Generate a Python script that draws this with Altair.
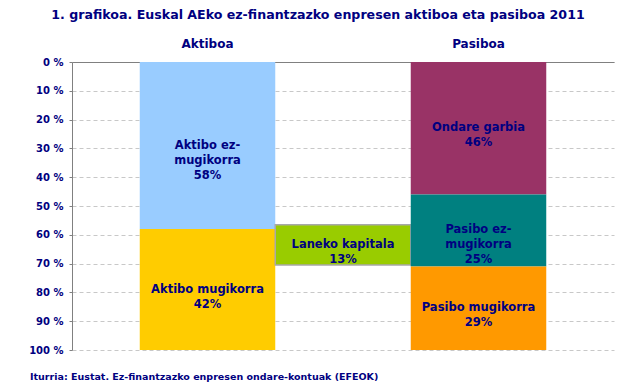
import altair as alt
import pandas as pd

# ---- data ----
columns = ["Aktiboa", "Laneko kapitala", "Pasiboa"]
seg_column = ["Aktiboa", "Aktiboa", "Laneko kapitala", "Pasiboa", "Pasiboa", "Pasiboa"]
seg_names = ["Aktibo ez-mugikorra", "Aktibo mugikorra", "Laneko kapitala",
             "Ondare garbia", "Pasibo ez-mugikorra", "Pasibo mugikorra"]
seg_start = [0, 58, 56.5, 0, 46, 71]
seg_end = [58, 100, 70.5, 46, 71, 100]
seg_labels = ["Aktibo ez-\nmugikorra\n58%", "Aktibo mugikorra\n42%", "Laneko kapitala\n13%",
              "Ondare garbia\n46%", "Pasibo ez-\nmugikorra\n25%", "Pasibo mugikorra\n29%"]
seg_colors = ["#99CCFF", "#FFCC00", "#99CC00", "#993366", "#008080", "#FF9900"]
y_ticks = [0, 10, 20, 30, 40, 50, 60, 70, 80, 90, 100]

title_text = "1. grafikoa. Euskal AEko ez-finantzazko enpresen aktiboa eta pasiboa 2011"
source_text = "Iturria: Eustat. Ez-finantzazko enpresen ondare-kontuak (EFEOK)"

NAVY = "#000080"
FONT = "DejaVu Sans"

df = pd.DataFrame({
    "column": seg_column,
    "name": seg_names,
    "start": seg_start,
    "end": seg_end,
    "label": seg_labels,
})

x_scale = alt.Scale(domain=columns, paddingInner=0, paddingOuter=0.5)
y_scale = alt.Scale(domain=[0, 100], reverse=True, nice=False, zero=False)

x_axis = alt.Axis(orient="top", values=["Aktiboa", "Pasiboa"], ticks=False,
                  labelPadding=12, labelAngle=0, labelFont=FONT, labelFontSize=12,
                  labelFontWeight="bold", labelColor=NAVY, title=None,
                  domainColor="#808080", grid=False)
y_axis = alt.Axis(values=y_ticks, labelExpr="datum.value + ' %'", title=None,
                  labelOverlap=False, labelFont=FONT, labelFontSize=10,
                  labelFontWeight="bold", labelColor=NAVY, labelPadding=6,
                  tickSize=3, tickColor="#808080",
                  domainColor="#808080", gridColor="#C8C8C8", gridDash=[4, 3])

bars = alt.Chart(df).mark_bar(stroke="#A8A8A8").encode(
    x=alt.X("column:N", scale=x_scale, axis=x_axis),
    y=alt.Y("start:Q", scale=y_scale, axis=y_axis),
    y2="end:Q",
    color=alt.Color("name:N", scale=alt.Scale(domain=seg_names, range=seg_colors), legend=None),
    strokeWidth=alt.condition(alt.datum.name == "Laneko kapitala", alt.value(1.5), alt.value(0)),
)

labels = alt.Chart(df).transform_calculate(
    mid="(datum.start + datum.end) / 2"
).mark_text(lineBreak="\n", font=FONT, fontSize=11.5, fontWeight="bold", color=NAVY,
            lineHeight=15, baseline="middle", align="center").encode(
    x=alt.X("column:N", scale=x_scale, axis=x_axis),
    y=alt.Y("mid:Q", scale=y_scale, axis=y_axis),
    text="label:N",
)

title = alt.Chart(pd.DataFrame({"t": [title_text]})).mark_text(
    font=FONT, fontSize=12.6, fontWeight="bold", color=NAVY, align="center", baseline="middle"
).encode(x=alt.value(246), y=alt.value(-47), text="t:N")

source = alt.Chart(pd.DataFrame({"t": [source_text]})).mark_text(
    font=FONT, fontSize=9.5, fontWeight="bold", color=NAVY, align="left", baseline="middle"
).encode(x=alt.value(-42), y=alt.value(315), text="t:N")

chart = alt.layer(bars, labels, title, source).properties(
    width=542, height=288,
    autosize=alt.AutoSizeParams(type="none"),
    padding={"left": 64, "top": 54, "right": 7, "bottom": 32},
).configure(background="white", view=alt.ViewConfig(stroke=None))

chart.save("out.html", embed_options={"renderer": "svg", "actions": False})
